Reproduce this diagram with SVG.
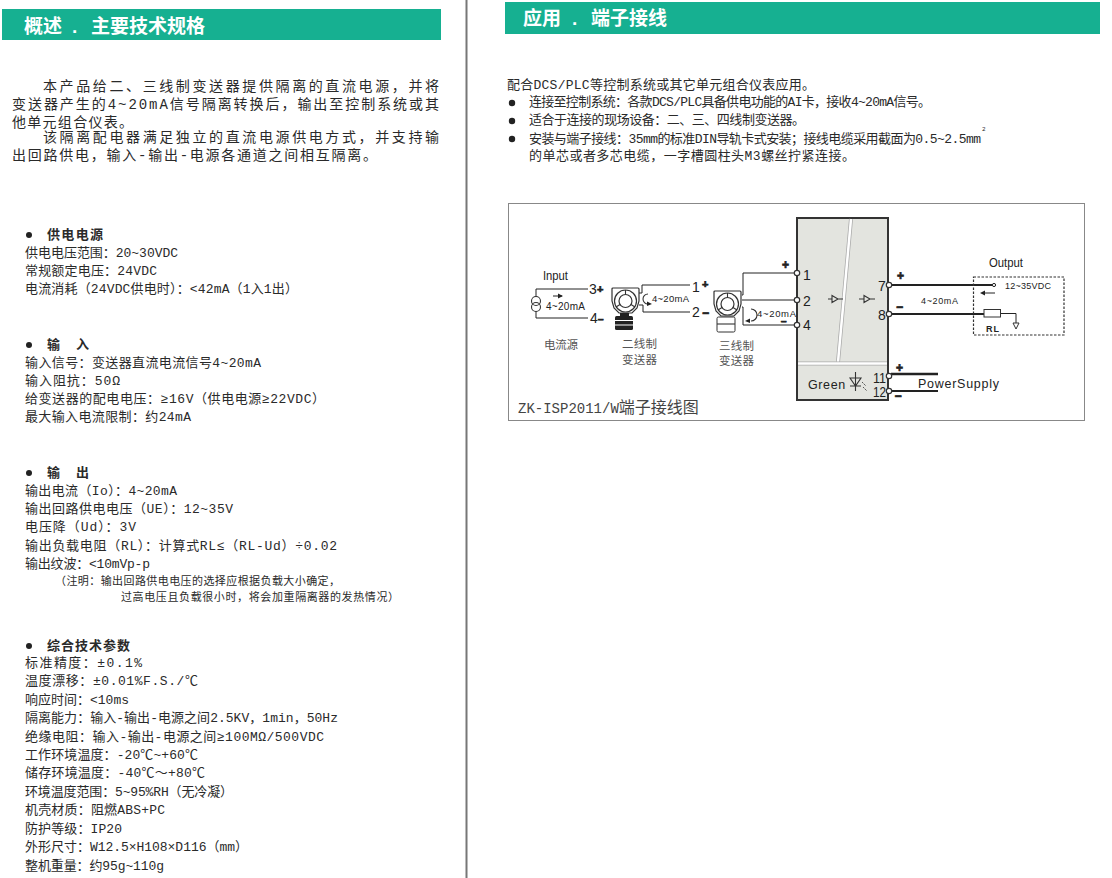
<svg xmlns="http://www.w3.org/2000/svg" width="1112" height="878" viewBox="0 0 1112 878">
<style>
text{font-family:"Liberation Mono","Noto Sans CJK SC",monospace;fill:#2a2a2a}
.hd{font-size:19px;font-weight:700;fill:#fff;font-family:"Liberation Sans","Noto Sans CJK SC",sans-serif}
.p{font-size:14px}
.b{font-size:13px;transform:translateY(-1px)}
.h{font-size:13px;font-weight:700;transform:translateY(-.5px)}
.n{font-size:11px}
.s text{font-family:"Liberation Sans","Noto Sans CJK SC",sans-serif;fill:#222}
.s text.num{font-size:14px}
.s text.cn{font-size:11.500px;fill:#555}
.mk{stroke:#222;stroke-width:.7}
.w{fill:none;stroke:#222;stroke-width:1}
.w2{fill:none;stroke:#222;stroke-width:2}
.t{fill:#fff;stroke:#333;stroke-width:1.200}
.hs{fill:#fff;stroke:#333;stroke-width:1.200}
.sg{fill:none;stroke:#333;stroke-width:1.100}
</style>
<defs>
<g id="xm">
<path class="hs" d="M0 1Q0 0 1 0H26Q27 0 27 1V13L25 20L20 25H7L2 20L0 13Z"/>
<circle class="hs" cx="13.500" cy="13" r="11"/>
<circle class="hs" cx="13.500" cy="13" r="6.500"/>
<path class="sg" d="M13.500 2V6.500M4 19L8 16.500M23 19L19 16.500"/>
</g>
</defs>
<rect x="465.500" y="0" width="2" height="878" fill="#777"/>

<g id="left-panel">
<rect x="2" y="9" width="439" height="31" fill="#16b091"/>
<text class="hd" x="24" y="33">概述<tspan x="72">.</tspan><tspan x="91">主要技术规格</tspan></text>
<text class="p" x="43" y="91" textLength="396">本产品给二、三线制变送器提供隔离的直流电源，并将</text>
<text class="p" x="12" y="109" textLength="427">变送器产生的4~20mA信号隔离转换后，输出至控制系统或其</text>
<text class="p" x="12" y="127" textLength="121">他单元组合仪表。</text>
<text class="p" x="43" y="142" textLength="396">该隔离配电器满足独立的直流电源供电方式，并支持输</text>
<text class="p" x="12" y="160" textLength="365">出回路供电，输入-输出-电源各通道之间相互隔离。</text>

<circle cx="29" cy="235" r="3" fill="#222"/>
<text class="h" x="47" y="239" textLength="56">供电电源</text>
<text class="b" x="25" y="258" textLength="153">供电电压范围：20~30VDC</text>
<text class="b" x="25" y="276" textLength="132">常规额定电压：24VDC</text>
<text class="b" x="25" y="294" textLength="273">电流消耗（24VDC供电时）：&lt;42mA（1入1出）</text>

<circle cx="29" cy="345" r="3" fill="#222"/>
<text class="h" x="47" y="349" textLength="42">输 入</text>
<text class="b" x="25" y="368" textLength="236">输入信号：变送器直流电流信号4~20mA</text>
<text class="b" x="25" y="386" textLength="95">输入阻抗：50Ω</text>
<text class="b" x="25" y="404" textLength="300">给变送器的配电电压：≥16V（供电电源≥22VDC）</text>
<text class="b" x="25" y="422" textLength="166">最大输入电流限制：约24mA</text>

<circle cx="29" cy="473" r="3" fill="#222"/>
<text class="h" x="47" y="477" textLength="42">输 出</text>
<text class="b" x="25" y="496" textLength="152">输出电流（Io）：4~20mA</text>
<text class="b" x="25" y="514" textLength="208">输出回路供电电压（UE）：12~35V</text>
<text class="b" x="25" y="532" textLength="111">电压降（Ud）：3V</text>
<text class="b" x="25" y="551" textLength="312">输出负载电阻（RL）：计算式RL≤（RL-Ud）÷0.02</text>
<text class="b" x="25" y="569" textLength="125">输出纹波：&lt;10mVp-p</text>
<text class="n" x="55" y="585" textLength="285">（注明：输出回路供电电压的选择应根据负载大小确定，</text>
<text class="n" x="121" y="601" textLength="278">过高电压且负载很小时，将会加重隔离器的发热情况）</text>

<circle cx="29" cy="646" r="3" fill="#222"/>
<text class="h" x="47" y="650" textLength="83">综合技术参数</text>
<text class="b" x="25" y="668" textLength="117">标准精度：±0.1%</text>
<text class="b" x="25" y="686" textLength="173">温度漂移：±0.01%F.S./℃</text>
<text class="b" x="25" y="705" textLength="104">响应时间：&lt;10ms</text>
<text class="b" x="25" y="723" textLength="313">隔离能力：输入-输出-电源之间2.5KV，1min，50Hz</text>
<text class="b" x="25" y="742" textLength="299">绝缘电阻：输入-输出-电源之间≥100MΩ/500VDC</text>
<text class="b" x="25" y="760" textLength="173">工作环境温度：-20℃~+60℃</text>
<text class="b" x="25" y="778" textLength="180">储存环境温度：-40℃～+80℃</text>
<text class="b" x="25" y="797" textLength="208">环境温度范围：5~95%RH（无冷凝）</text>
<text class="b" x="25" y="815" textLength="140">机壳材质：阻燃ABS+PC</text>
<text class="b" x="25" y="834" textLength="97">防护等级：IP20</text>
<text class="b" x="25" y="852" textLength="223">外形尺寸：W12.5×H108×D116（mm）</text>
<text class="b" x="25" y="871" textLength="139">整机重量：约95g~110g</text>
</g>

<g id="right-panel">
<rect x="505" y="2" width="595" height="32" fill="#16b091"/>
<text class="hd" x="523" y="25">应用<tspan x="572">.</tspan><tspan x="591">端子接线</tspan></text>
<text class="b" x="507" y="90" textLength="308">配合DCS/PLC等控制系统或其它单元组合仪表应用。</text>
<circle cx="512" cy="103" r="3.200" fill="#222"/>
<text class="b" x="529" y="107" textLength="402">连接至控制系统：各款DCS/PLC具备供电功能的AI卡，接收4~20mA信号。</text>
<circle cx="512" cy="121" r="3.200" fill="#222"/>
<text class="b" x="529" y="125" textLength="276">适合于连接的现场设备：二、三、四线制变送器。</text>
<circle cx="512" cy="139" r="3.200" fill="#222"/>
<text class="b" x="529" y="144" textLength="452">安装与端子接线：35mm的标准DIN导轨卡式安装；接线电缆采用截面为0.5~2.5mm</text>
<text x="982" y="131" font-size="6">2</text>
<text class="b" x="529" y="161" textLength="326">的单芯或者多芯电缆，一字槽圆柱头M3螺丝拧紧连接。</text>
<rect x="508.500" y="203.500" width="576" height="217" fill="#fff" stroke="#888" stroke-width="1"/>
<text x="518" y="413" font-size="14" style="fill:#444">ZK-ISP2011/W<tspan font-size="16">端子接线图</tspan></text>
</g>

<g id="connectors">
<path class="w" d="M536 297V289H588M536 311V318H588"/>
<path class="w" d="M639 293H642V285H690M639 305H643V312H690"/>
<path class="w" d="M742 295H743V273H794M742 300H794M742 307H743V325H794"/>
<path class="w2" d="M892 285H992M892 314H984"/>
<path class="w" d="M1001 313.500H1016V324"/>
<path d="M891 374H938" fill="none" stroke="#222" stroke-width="2.500"/>
<path class="w2" d="M892 391H938"/>
</g>

<g id="module" class="s">
<rect x="797" y="218" width="91" height="182" fill="#e3e4df" stroke="#333" stroke-width="2"/>
<path d="M851 219L838 362" stroke="#aaa" stroke-width="4" fill="none"/>
<path d="M851 219L838 362" stroke="#fff" stroke-width="2.500" fill="none"/>
<path d="M798 363.500H887" stroke="#aaa" stroke-width="4" fill="none"/>
<path d="M798 363.500H887" stroke="#fff" stroke-width="2.500" fill="none"/>
<path class="sg" d="M828 299H832M832 295.500L838 299L832 302.500ZM838 299H843"/>
<path class="sg" d="M859 299H864M864 295.500L870 299L864 302.500ZM870 299H875"/>
<text x="808" y="389" font-size="12.500" letter-spacing="0.600">Green</text>
<path class="sg" d="M850 378H861L855.500 386ZM850 386H861M855.500 372V391"/>
<path d="M862 382L866 386M863 387L867 391" stroke="#555" stroke-width="1" fill="none" stroke-dasharray="2 1"/>
</g>

<g id="terminals" class="s">
<circle class="t" cx="797" cy="273" r="2.700"/>
<circle class="t" cx="797" cy="300" r="2.700"/>
<circle class="t" cx="797" cy="325" r="2.700"/>
<circle class="t" cx="889" cy="285" r="2.700"/>
<circle class="t" cx="889" cy="314" r="2.700"/>
<circle class="t" cx="889" cy="376" r="2.700"/>
<circle class="t" cx="889" cy="391" r="2.700"/>
<text class="num" x="803" y="280">1</text>
<text class="num" x="803" y="306">2</text>
<text class="num" x="803" y="330">4</text>
<text class="num" x="878" y="291">7</text>
<text class="num" x="878" y="320">8</text>
<text class="num" x="873" y="383" textLength="13" lengthAdjust="spacingAndGlyphs">11</text>
<text class="num" x="873" y="397" textLength="13" lengthAdjust="spacingAndGlyphs">12</text>
<text class="mk" x="782" y="269" font-size="12" font-weight="700">+</text>
<text class="mk" x="781" y="325" font-size="10" font-weight="700">−</text>
<text class="mk" x="897" y="280" font-size="12" font-weight="700">+</text>
<text class="mk" x="896" y="311" font-size="12" font-weight="700">−</text>
<text class="mk" x="896" y="372" font-size="12" font-weight="700">+</text>
<text class="mk" x="894.500" y="400" font-size="12" font-weight="700">−</text>
<text x="918" y="388" font-size="12.500" textLength="81">PowerSupply</text>
</g>

<g id="input" class="s">
<text x="543" y="280" font-size="13" textLength="25" lengthAdjust="spacingAndGlyphs">Input</text>
<circle class="sg" cx="536" cy="301" r="4.500"/>
<circle class="sg" cx="536" cy="307" r="4.500"/>
<path class="w" d="M553 296H562"/><path d="M563 296L558 293.500V298.500Z" fill="#222"/>
<text x="546" y="310" font-size="10" textLength="39">4~20mA</text>
<text class="num" x="589" y="294">3</text>
<text class="mk" x="597" y="293" font-size="11" font-weight="700">+</text>
<text class="num" x="590" y="323">4</text>
<text class="mk" x="598" y="323" font-size="10" font-weight="700">−</text>
<text class="cn" x="544" y="349" textLength="34">电流源</text>
</g>

<g id="two-wire" class="s">
<use href="#xm" x="612" y="288"/>
<rect x="620" y="313" width="9" height="4" fill="#222"/>
<rect x="615" y="316" width="18" height="14" rx="1.500" fill="#222"/>
<path d="M615 320.500H633M615 325H633" stroke="#fff" stroke-width="1.200"/>
<path class="sg" d="M648 294A5 5 0 0 0 648 304"/>
<path d="M652 304L647 301.500V306Z" fill="#222"/>
<text x="652" y="302" font-size="9.500" textLength="37">4~20mA</text>
<text class="num" x="692" y="292">1</text>
<text class="num" x="692" y="317">2</text>
<text class="mk" x="702" y="288" font-size="11" font-weight="700">+</text>
<text class="mk" x="702" y="317" font-size="12" font-weight="700">−</text>
<text class="cn" x="622" y="348" textLength="35">二线制</text>
<text class="cn" x="622" y="364" textLength="35">变送器</text>
</g>

<g id="three-wire" class="s">
<use href="#xm" x="714" y="291"/>
<rect x="717" y="317" width="18" height="15" rx="1.500" fill="#fff" stroke="#333" stroke-width="1"/>
<path class="sg" d="M717 324H735"/>
<path class="sg" d="M751 309A6 6 0 0 1 751 321"/>
<path d="M745 321L750 318.500V323Z" fill="#222"/>
<text x="757" y="317" font-size="9.500" textLength="39">4~20mA</text>
<text class="cn" x="719" y="350" textLength="35">三线制</text>
<text class="cn" x="719" y="365" textLength="35">变送器</text>
</g>

<g id="output" class="s">
<text x="989" y="267" font-size="13" textLength="34" lengthAdjust="spacingAndGlyphs">Output</text>
<rect x="973.500" y="277" width="90.500" height="58" fill="none" stroke="#333" stroke-width="1.200" stroke-dasharray="2.500 1.500"/>
<circle cx="994" cy="285" r="1.600" fill="#fff" stroke="#222"/>
<path class="w" d="M984 293H995"/><path d="M980 293L985 290.500V295.500Z" fill="#222"/>
<text x="1005" y="289" font-size="9" textLength="46">12~35VDC</text>
<text x="921" y="304" font-size="9" textLength="37">4~20mA</text>
<rect x="984" y="309.500" width="16.500" height="7.500" fill="#fff" stroke="#333" stroke-width="1"/>
<path d="M1013 323H1019L1016 329Z" fill="#fff" stroke="#333" stroke-width="1"/>
<text x="986" y="332" font-size="9" font-weight="700" textLength="13">RL</text>
</g>
</svg>
